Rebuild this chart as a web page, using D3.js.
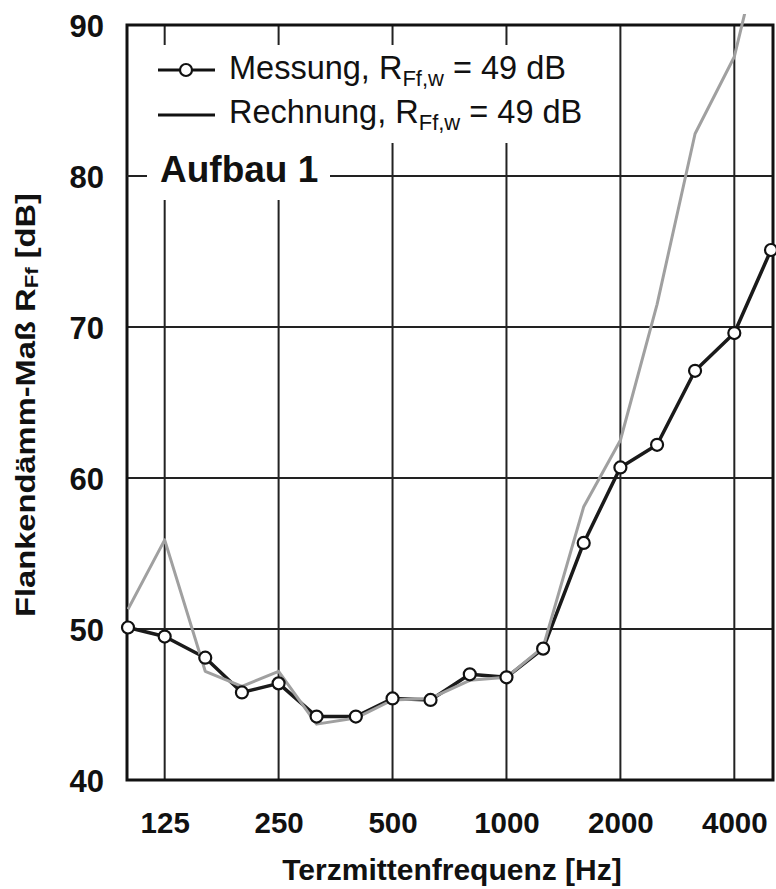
<!DOCTYPE html>
<html><head><meta charset="utf-8">
<script src="https://cdn.jsdelivr.net/npm/d3@7"></script>
<style>body{margin:0;background:#fff}svg{display:block}text{font-family:"Liberation Sans",Arial,Helvetica,sans-serif}</style>
</head><body>
<script>
const freqs = [100,125,160,200,250,315,400,500,630,800,1000,1250,1600,2000,2500,3150,4000,5000];
const messung = [50.1,49.5,48.1,45.8,46.4,44.2,44.2,45.4,45.3,47.0,46.8,48.7,55.7,60.7,62.2,67.1,69.6,75.1];
const rechnung = [51.3,55.9,47.2,46.2,47.2,43.7,44.1,45.3,45.4,46.6,46.8,48.8,58.1,62.5,71.5,82.8,87.9,98.0];
const xTicks = [125,250,500,1000,2000,4000];
const yTicks = [40,50,60,70,80,90];
const legendLabels = ["Messung, R", "Rechnung, R"];
const legendSub = "Ff,w";
const legendTail = " = 49 dB";
const panelLabel = "Aufbau 1";
const xTitle = "Terzmittenfrequenz [Hz]";

const W=776,H=889;
const L=127,R=773,T=25,B=780;
const svg=d3.select("body").append("svg").attr("width",W).attr("height",H);
const x=d3.scaleLog().domain([100,5000]).range([128,771]);
const y=d3.scaleLinear().domain([40,90]).range([B,T]);

// grid
const g=svg.append("g");
g.selectAll("line.v").data(xTicks).join("line").attr("x1",d=>x(d)).attr("x2",d=>x(d)).attr("y1",T).attr("y2",B).attr("stroke","#222").attr("stroke-width",2);
g.selectAll("line.h").data(yTicks.filter(d=>d>40&&d<90)).join("line").attr("class","h").attr("x1",L).attr("x2",R).attr("y1",d=>y(d)).attr("y2",d=>y(d)).attr("stroke","#222").attr("stroke-width",2);

// white boxes (legend and panel label)
svg.append("rect").attr("x",L+2).attr("y",45).attr("width",465).attr("height",98).attr("fill","#fff");
svg.append("rect").attr("x",147).attr("y",143).attr("width",183).attr("height",57).attr("fill","#fff");

// frame
svg.append("rect").attr("x",L).attr("y",T).attr("width",R-L).attr("height",B-T).attr("fill","none").attr("stroke","#111").attr("stroke-width",3);

// clip
svg.append("clipPath").attr("id","c").append("rect").attr("x",L).attr("y",14).attr("width",R-L+10).attr("height",B-14);

const line=d3.line().x((d,i)=>x(freqs[i])).y(d=>y(d));
const lg=svg.append("g").attr("clip-path","url(#c)");
lg.append("path").datum(messung).attr("d",line).attr("fill","none").attr("stroke","#1a1a1a").attr("stroke-width",3.5).attr("stroke-linejoin","round");
lg.append("path").datum(rechnung).attr("d",line).attr("fill","none").attr("stroke","#a0a0a0").attr("stroke-width",3).attr("stroke-linejoin","round");
svg.append("g").selectAll("circle").data(messung).join("circle").attr("cx",(d,i)=>x(freqs[i])).attr("cy",d=>y(d)).attr("r",6).attr("fill","#fff").attr("stroke","#111").attr("stroke-width",2.2);

// axes labels
const yAxis=d3.axisLeft(y).tickValues(yTicks).tickSize(0).tickPadding(0);
const ya=svg.append("g").attr("transform","translate(104,0)").call(yAxis);
ya.select(".domain").remove();
ya.selectAll("text").attr("font-size",31).attr("font-weight","bold").attr("fill","#111").attr("font-family","'Liberation Sans',Arial,sans-serif").attr("dy","0.36em");

const xAxis=d3.axisBottom(x).tickValues(xTicks).tickFormat(d3.format("d")).tickSize(0).tickPadding(0);
const xa=svg.append("g").attr("transform","translate(0,833)").call(xAxis);
xa.select(".domain").remove();
xa.selectAll("text").attr("font-size",29.5).attr("font-weight","bold").attr("fill","#111").attr("font-family","'Liberation Sans',Arial,sans-serif").attr("dy",0);

svg.append("text").attr("x",452).attr("y",880).attr("text-anchor","middle").attr("font-size",30).attr("font-weight","bold").attr("fill","#111").text(xTitle);

const yl=svg.append("text").attr("transform","translate(35,405) rotate(-90)").attr("text-anchor","middle").attr("font-size",28).attr("font-weight","bold").attr("fill","#111")
  .attr("textLength",424).attr("lengthAdjust","spacingAndGlyphs");
yl.append("tspan").text("Flankendämm-Maß R");
yl.append("tspan").attr("font-size",19).attr("dy",3).text("Ff");
yl.append("tspan").attr("dy",-3).text(" [dB]");

// legend
const rows=[{ly:70,ty:79,circ:true},{ly:115,ty:123,circ:false}];
rows.forEach((r,i)=>{
  svg.append("line").attr("x1",158).attr("x2",215).attr("y1",r.ly).attr("y2",r.ly).attr("stroke","#111").attr("stroke-width",3);
  if(r.circ) svg.append("circle").attr("cx",186).attr("cy",r.ly).attr("r",6).attr("fill","#fff").attr("stroke","#111").attr("stroke-width",2.2);
  const t=svg.append("text").attr("x",229).attr("y",r.ty).attr("font-size",32.5).attr("fill","#111");
  t.append("tspan").text(legendLabels[i]);
  t.append("tspan").attr("font-size",22).attr("dy",7).text(legendSub);
  t.append("tspan").attr("dy",-7).text(legendTail);
});

// panel label
svg.append("line").attr("x1",L).attr("x2",147).attr("y1",y(80)).attr("y2",y(80)).attr("stroke","#222").attr("stroke-width",2);
svg.append("text").attr("x",160).attr("y",182).attr("font-size",37).attr("font-weight","bold").attr("fill","#111").text(panelLabel);
</script>
</body></html>
